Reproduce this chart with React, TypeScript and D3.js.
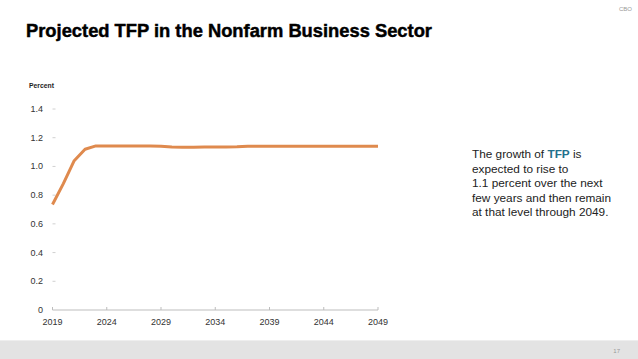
import React from 'react';
import * as d3 from 'd3';

const years = [2019, 2020, 2021, 2022, 2023, 2024, 2025, 2026, 2027, 2028, 2029, 2030, 2031, 2032, 2033, 2034,
  2035, 2036, 2037, 2038, 2039, 2040, 2041, 2042, 2043, 2044, 2045, 2046, 2047, 2048, 2049];
const tfp = [0.735, 0.88, 1.04, 1.12, 1.143, 1.143, 1.143, 1.143, 1.143, 1.142, 1.141, 1.135, 1.134, 1.134, 1.135, 1.135,
  1.136, 1.137, 1.14, 1.141, 1.141, 1.141, 1.141, 1.141, 1.141, 1.141, 1.141, 1.141, 1.141, 1.141, 1.141];
const xTicks = [2019, 2024, 2029, 2034, 2039, 2044, 2049];
const yTicks = [0, 0.2, 0.4, 0.6, 0.8, 1.0, 1.2, 1.4];
const noteLines = [
  ['The growth of ', 'TFP', ' is'],
  ['expected to rise to'],
  ['1.1 percent over the next'],
  ['few years and then remain'],
  ['at that level through 2049.'],
];

const W = 638;
const H = 359;
const font = 'Arial, "Liberation Sans", Helvetica, sans-serif';

export default function App() {
  const x = d3.scaleLinear().domain([2019, 2049]).range([52.5, 378]);
  const y = d3.scaleLinear().domain([0, 1.4]).range([310, 109]);

  const line = d3.line<number>()
    .x((_, i) => x(years[i]))
    .y(d => y(d));

  const fmt = (v: number) => (v === 0 ? '0' : d3.format('.1f')(v));

  return (
    <svg width={W} height={H} style={{ position: 'absolute', left: 0, top: 0, background: '#fff' }}>
      <rect width={W} height={H} fill="#fff" />

      {/* header */}
      <text x={632} y={11} fontSize={6} fill="#999" fontFamily={font} textAnchor="end">CBO</text>
      <text x={26} y={37} fontSize={18} fontWeight="bold" fill="#000" stroke="#000" strokeWidth={0.45}
        fontFamily={font} textLength={406} lengthAdjust="spacingAndGlyphs">
        Projected TFP in the Nonfarm Business Sector
      </text>

      {/* y axis */}
      <text x={29} y={88} fontSize={8} fontWeight="bold" fill="#222" fontFamily={font}
        textLength={25} lengthAdjust="spacingAndGlyphs">Percent</text>
      {yTicks.map(t => (
        <g key={t}>
          <text x={43} y={y(t) + 3} fontSize={9} fill="#333" fontFamily={font} textAnchor="end">{fmt(t)}</text>
          {t > 0 && <line x1={52.5} x2={55.5} y1={y(t)} y2={y(t)} stroke="#d0d0d0" strokeWidth={1} />}
        </g>
      ))}

      {/* x axis */}
      <line x1={x(2019)} x2={x(2049)} y1={y(0)} y2={y(0)} stroke="#bdbdbd" strokeWidth={1} />
      {xTicks.map(t => (
        <g key={t}>
          <line x1={x(t)} x2={x(t)} y1={y(0)} y2={y(0) - 3} stroke="#bdbdbd" strokeWidth={1} />
          <text x={x(t)} y={325} fontSize={9} fill="#333" fontFamily={font} textAnchor="middle">{t}</text>
        </g>
      ))}

      {/* series */}
      <path d={line(tfp) || ''} fill="none" stroke="#df8a4e" strokeWidth={3} strokeLinejoin="round" />

      {/* note */}
      {noteLines.map((parts, i) => (
        <text key={i} x={472} y={158 + i * 14.6} fontSize={11.8} fill="#222" fontFamily={font}>
          {parts.map((p, j) => (
            p === 'TFP'
              ? <tspan key={j} fontWeight="bold" fill="#23708c">{p}</tspan>
              : <tspan key={j}>{p}</tspan>
          ))}
        </text>
      ))}

      {/* footer */}
      <rect x={0} y={341} width={W} height={H - 341} fill="#e3e3e3" />
      <line x1={0} x2={W} y1={340.5} y2={340.5} stroke="#eeeeee" />
      <text x={620} y={353} fontSize={6} fill="#999" fontFamily={font} textAnchor="end">17</text>
    </svg>
  );
}
